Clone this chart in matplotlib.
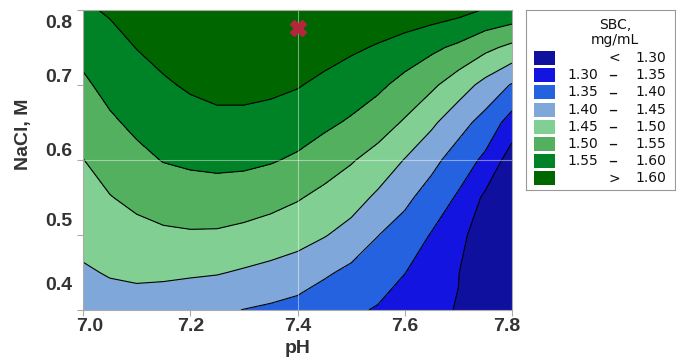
import matplotlib
matplotlib.use("Agg")
import matplotlib.pyplot as plt
import matplotlib.transforms as mtransforms
from matplotlib.patches import Rectangle
import numpy as np

# axes values
ph = [7.0, 7.05, 7.1, 7.15, 7.2, 7.25, 7.3, 7.35, 7.4, 7.45, 7.5, 7.55, 7.6, 7.65, 7.7, 7.75, 7.8]
nacl = [0.40, 0.45, 0.50, 0.55, 0.60, 0.65, 0.70, 0.75, 0.80]
ph_ticks = [7.0, 7.2, 7.4, 7.6, 7.8]
nacl_ticks = [0.4, 0.5, 0.6, 0.7, 0.8]

# SBC (mg/mL), one list per pH column, NaCl from 0.80 down to 0.40
sbc_by_ph = [
    [1.593, 1.564, 1.542, 1.520, 1.499, 1.481, 1.463, 1.445, 1.427],  # 7.00
    [1.605, 1.584, 1.564, 1.543, 1.521, 1.498, 1.476, 1.453, 1.433],  # 7.05
    [1.621, 1.601, 1.581, 1.560, 1.538, 1.512, 1.485, 1.457, 1.433],  # 7.10
    [1.636, 1.615, 1.594, 1.573, 1.552, 1.523, 1.492, 1.458, 1.425],  # 7.15
    [1.650, 1.631, 1.606, 1.582, 1.558, 1.528, 1.495, 1.456, 1.415],  # 7.20
    [1.655, 1.640, 1.614, 1.588, 1.561, 1.530, 1.494, 1.453, 1.408],  # 7.25
    [1.655, 1.642, 1.615, 1.587, 1.560, 1.526, 1.487, 1.445, 1.399],  # 7.30
    [1.655, 1.639, 1.611, 1.582, 1.554, 1.517, 1.478, 1.437, 1.392],  # 7.35
    [1.650, 1.632, 1.603, 1.574, 1.543, 1.504, 1.468, 1.427, 1.383],  # 7.40
    [1.648, 1.619, 1.589, 1.560, 1.524, 1.487, 1.453, 1.407, 1.368],  # 7.45
    [1.638, 1.607, 1.576, 1.544, 1.504, 1.471, 1.432, 1.389, 1.358],  # 7.50
    [1.631, 1.596, 1.560, 1.522, 1.482, 1.441, 1.401, 1.373, 1.346],  # 7.55
    [1.631, 1.580, 1.534, 1.495, 1.448, 1.411, 1.379, 1.351, 1.325],  # 7.60
    [1.626, 1.560, 1.509, 1.459, 1.414, 1.379, 1.347, 1.325, 1.312],  # 7.65
    [1.616, 1.540, 1.474, 1.419, 1.377, 1.344, 1.323, 1.302, 1.297],  # 7.70
    [1.597, 1.512, 1.435, 1.382, 1.340, 1.291, 1.255, 1.240, 1.225],  # 7.75
    [1.587, 1.488, 1.396, 1.329, 1.275, 1.250, 1.230, 1.210, 1.190],  # 7.80
]

levels = [1.30, 1.35, 1.40, 1.45, 1.50, 1.55, 1.60]
colors = ['#10109E', '#1414E0', '#2562E0', '#7FA7DA', '#82CF93', '#52B05E', '#008226', '#006600']
legend_labels = [('<', '1.30'), ('1.30', '1.35'), ('1.35', '1.40'), ('1.40', '1.45'),
                 ('1.45', '1.50'), ('1.50', '1.55'), ('1.55', '1.60'), ('>', '1.60')]

best_ph, best_nacl = 7.4, 0.776

# grid: rows = NaCl ascending, cols = pH
Z = np.array(sbc_by_ph).T[::-1]
X, Y = np.meshgrid(ph, nacl)

fig = plt.figure(figsize=(6.76, 3.64), dpi=100)
fig.patch.set_facecolor('white')
ax = fig.add_axes([83 / 676, 54 / 364, 429 / 676, 300 / 364])

fill_levels = [0.0] + levels + [3.0]
ax.contourf(X, Y, Z, levels=fill_levels, colors=colors)
ax.contour(X, Y, Z, levels=levels, colors='black', linewidths=0.8)

ax.axvline(7.4, color='white', lw=0.8, alpha=0.45)
ax.axhline(0.6, color='white', lw=0.8, alpha=0.45)

ax.plot(best_ph, best_nacl, marker='X', markersize=12, color='#B5263A',
        markeredgecolor='#B5263A', linestyle='none')

ax.set_xlim(7.0, 7.8)
ax.set_ylim(0.4, 0.8)
ax.set_xticks(ph_ticks)
ax.set_yticks(nacl_ticks)
ax.set_xticklabels(['%.1f' % v for v in ph_ticks])
ax.set_yticklabels(['%.1f' % v for v in nacl_ticks])

for s in ax.spines.values():
    s.set_color('#AAAAAA')
ax.tick_params(direction='out', length=4, width=0.8, color='#AAAAAA',
               labelsize=14, labelcolor='#333333', pad=2)
ax.tick_params(axis='y', pad=4)
for lab in ax.get_xticklabels() + ax.get_yticklabels():
    lab.set_fontweight('bold')
    lab.set_fontfamily('Liberation Sans')

# the original nudges the edge labels inward
y_shift = [27, 15, 10, 9, -11]
for lab, dy in zip(ax.get_yticklabels(), y_shift):
    lab.set_transform(lab.get_transform() + mtransforms.ScaledTranslation(0, dy / 100, fig.dpi_scale_trans))
x_shift = [7, 0, 0, 0, -5]
for lab, dx in zip(ax.get_xticklabels(), x_shift):
    lab.set_transform(lab.get_transform() + mtransforms.ScaledTranslation(dx / 100, 0, fig.dpi_scale_trans))

ax.set_xlabel('pH', fontsize=14, fontweight='bold', color='#333333', family='Liberation Sans')
ax.set_ylabel('NaCl, M', fontsize=14, fontweight='bold', color='#333333', family='Liberation Sans')
ax.xaxis.set_label_coords(0.5, -0.1)
ax.yaxis.set_label_coords(-0.118, 0.587)

# legend box, drawn in pixel units
lax = fig.add_axes([526 / 676, 174 / 364, 149 / 676, 180 / 364])
lax.set_xlim(0, 149)
lax.set_ylim(180, 0)
lax.set_xticks([])
lax.set_yticks([])
for s in lax.spines.values():
    s.set_color('#999999')
    s.set_linewidth(0.8)

lfont = dict(family='DejaVu Sans', color='#111111', va='center')
lax.text(89, 15, 'SBC,', ha='center', fontsize=10, **lfont)
lax.text(89, 30, 'mg/mL', ha='center', fontsize=10, **lfont)
for i, (c, (lo, hi)) in enumerate(zip(colors, legend_labels)):
    yc = 48 + i * 17.2
    lax.add_patch(Rectangle((8, yc - 7), 21, 14, facecolor=c, edgecolor='none'))
    if lo in ('<', '>'):
        lax.text(88, yc, lo, ha='center', fontsize=10, **lfont)
    else:
        lax.text(72, yc, lo, ha='right', fontsize=10, **lfont)
        lax.text(87, yc, '\u2013', ha='center', fontsize=13, **lfont)
    lax.text(140, yc, hi, ha='right', fontsize=10, **lfont)

fig.savefig('out.png', dpi=100)
